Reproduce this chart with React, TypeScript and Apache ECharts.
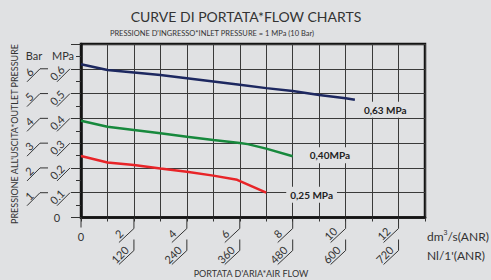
import React, { useEffect, useRef } from "react";
import * as echarts from "echarts";

// Flow (dm3/s ANR) vs outlet pressure (MPa) at inlet 1 MPa
const flow630X = [0, 1, 2, 3, 4, 5, 6, 7, 8, 9, 10, 10.35];
const flow630Y = [0.618, 0.595, 0.585, 0.575, 0.562, 0.549, 0.536, 0.522, 0.51, 0.494, 0.481, 0.475];
const flow400X = [0, 1, 2, 3, 4, 5, 6, 6.3, 7, 8];
const flow400Y = [0.39, 0.366, 0.353, 0.34, 0.326, 0.313, 0.301, 0.296, 0.278, 0.247];
const flow250X = [0, 1, 2, 3, 4, 5, 5.9, 7];
const flow250Y = [0.248, 0.222, 0.212, 0.198, 0.185, 0.169, 0.152, 0.1];

const seriesNames = ["0,63 MPa", "0,40MPa", "0,25 MPa"];

const mpaTicks = [0.1, 0.2, 0.3, 0.4, 0.5, 0.6];
const mpaLabels = ["0.1", "0.2", "0.3", "0.4", "0.5", "0.6"];
const barLabels = ["1", "2", "3", "4", "5", "6"];
const dmTicks = [2, 4, 6, 8, 10, 12];
const dmLabels = ["2", "4", "6", "8", "10", "12"];
const nlLabels = ["120", "240", "360", "480", "600", "720"];

const BG = "#e0e1e3";
const INK = "#333333";
const FONT = "Lato, 'DejaVu Sans', sans-serif";

const zip = (xs: number[], ys: number[]) => xs.map((x, i) => [x, ys[i]]);

export default function App() {
  const ref = useRef<HTMLDivElement>(null);
  useEffect(() => {
    if (!ref.current) return;
    const chart = echarts.init(ref.current, undefined, { renderer: "svg" });
    const lineSeries = (name: string, data: number[][], color: string, offset: number[]) => ({
      type: "line",
      name,
      data,
      showSymbol: false,
      symbol: "none",
      lineStyle: { color, width: 2.5 },
      endLabel: {
        show: true,
        formatter: name,
        distance: 0,
        offset,
        fontFamily: FONT,
        fontWeight: "bold",
        fontSize: 10,
        color: "#222",
        backgroundColor: BG,
        padding: [3, 4],
      },
    });
    chart.setOption({
      animation: false,
      backgroundColor: BG,
      textStyle: { fontFamily: FONT },
      grid: {
        left: 81,
        right: 66,
        top: 44,
        bottom: 62.5,
        show: true,
        borderColor: "#141414",
        borderWidth: 2.5,
      },
      xAxis: {
        type: "value",
        min: 0,
        max: 13,
        interval: 1,
        axisLine: { show: true, lineStyle: { color: "#141414", width: 2.5 } },
        axisTick: { show: true, length: 4, lineStyle: { color: INK, width: 1 } },
        axisLabel: { show: false },
        splitLine: { show: true, lineStyle: { color: "#3a3a3a", width: 1 } },
      },
      yAxis: {
        type: "value",
        min: 0,
        max: 0.7,
        interval: 0.1,
        axisLine: { show: true, lineStyle: { color: "#141414", width: 2.5 } },
        axisTick: { show: true, length: 10, lineStyle: { color: INK, width: 1 } },
        minorTick: { show: true, splitNumber: 2, length: 5, lineStyle: { color: INK, width: 1 } },
        axisLabel: { show: false },
        splitLine: { show: true, lineStyle: { color: "#3a3a3a", width: 1 } },
      },
      series: [
        lineSeries(seriesNames[0], zip(flow630X, flow630Y), "#1d2860", [5, 10]),
        lineSeries(seriesNames[1], zip(flow400X, flow400Y), "#17893d", [13, -1]),
        lineSeries(seriesNames[2], zip(flow250X, flow250Y), "#e82428", [20, 2]),
      ],
    });

    const toPx = (p: number[]) => chart.convertToPixel({ gridIndex: 0 }, p) as number[];
    const [x0, yb] = toPx([0, 0]);
    const g: any[] = [];
    const line = (pts: number[][]) => ({
      type: "polyline",
      shape: { points: pts },
      style: { stroke: INK, lineWidth: 1, fill: "none" },
      silent: true,
    });
    const txt = (x: number, y: number, text: string, size: number, rot = 0, extra: any = {}) => ({
      type: "text",
      x,
      y,
      rotation: rot,
      style: {
        text,
        fontSize: size,
        fontFamily: FONT,
        fill: INK,
        align: "center",
        verticalAlign: "middle",
        ...extra,
      },
      silent: true,
    });
    const R = Math.PI / 4;
    mpaTicks.forEach((v, i) => {
      const py = toPx([0, v])[1];
      g.push(line([[x0 - 24, py + 13], [x0 - 11, py]]));
      g.push(txt(x0 - 24, py + 4, mpaLabels[i], 11, R));
      g.push(line([[x0 - 54, py + 13], [x0 - 41, py], [x0 - 33, py]]));
      g.push(txt(x0 - 52, py + 3, barLabels[i], 11, R));
    });
    g.push(txt(x0 - 24, yb, "0", 11));
    g.push(line([[x0, yb], [x0, yb + 10]]));
    g.push(txt(x0, yb + 19, "0", 11));
    dmTicks.forEach((v, i) => {
      const px = toPx([v, 0])[0];
      g.push(line([[px, yb], [px, yb + 11], [px - 15, yb + 25]]));
      g.push(txt(px - 15, yb + 16, dmLabels[i], 11, R));
      g.push(line([[px, yb + 22], [px, yb + 33], [px - 15, yb + 47]]));
      g.push(txt(px - 14, yb + 37, nlLabels[i], 11, R));
    });
    g.push(txt(x0 - 47, 55, "Bar", 11));
    g.push(txt(x0 - 18, 55, "MPa", 11));
    g.push(txt(246, 16, "CURVE DI PORTATA*FLOW CHARTS", 14));
    g.push(txt(212, 33, "PRESSIONE D'INGRESSO*INLET PRESSURE = 1 MPa (10 Bar)", 7.5));
    g.push(txt(14, 134, "PRESSIONE ALL'USCITA*OUTLET PRESSURE", 9, Math.PI / 2));
    g.push(txt(251, 273, "PORTATA D'ARIA*AIR FLOW", 9));
    g.push({
      type: "text",
      x: 427,
      y: 236,
      style: {
        text: "dm{s|3}/s(ANR)",
        fontSize: 12,
        fontFamily: FONT,
        fill: INK,
        align: "left",
        verticalAlign: "middle",
        rich: { s: { fontSize: 7, fill: INK, verticalAlign: "top", padding: [0, 0, 8, 0] } },
      },
      silent: true,
    });
    g.push(txt(427, 255, "Nl/1'(ANR)", 12, 0, { align: "left" }));
    chart.setOption({ graphic: g });
    return () => chart.dispose();
  }, []);
  return (
    <div
      ref={ref}
      style={{ position: "fixed", left: 0, top: 0, width: 491, height: 280 }}
    />
  );
}
